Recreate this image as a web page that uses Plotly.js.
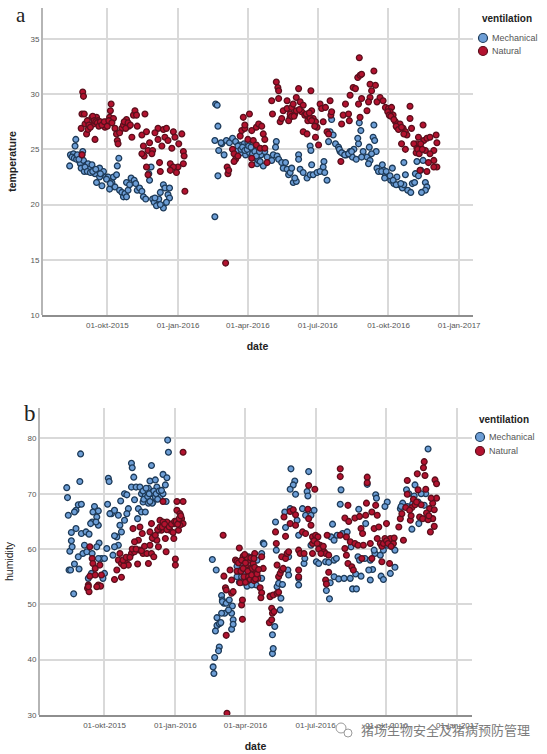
<!DOCTYPE html>
<html><head><meta charset="utf-8">
<script src="https://cdn.plot.ly/plotly-3.0.1.min.js"></script>
<style>html,body{margin:0;padding:0;background:#fff}#c{width:547px;height:754px}</style>
</head><body><div id="c"></div>
<script>
// Each pair: [days after 01-okt-2015]
const tempMechanical = [[-49,23.5],[-48,24.5],[-44,24.6],[-46,24.3],[-43,24.2],[-41,25.9],[-42,25.3],[-32,24.8],[-33,24.5],[-40,24.1],[-36,23.9],[-35,23.7],[-31,24],[-34,23.3],[-30,23],[-27,23.6],[-23,23.3],[-25,23.7],[-20,23.6],[-18,23.1],[-16,22.8],[-14,22],[-12,23.1],[-10,22.5],[-7,21.7],[-10,23.3],[-5,23],[-2,22.5],[1,22.5],[3,21.4],[6,22],[8,22.5],[10,21.6],[12,22.7],[15,24.2],[13,23.5],[16,21.3],[19,21.1],[21,20.7],[23,21],[25,20.7],[27,21.3],[25,22],[29,21.8],[31,22.4],[35,22.2],[37,21.9],[39,21.3],[42,21.5],[45,21.2],[47,20.7],[50,20.5],[54,22.8],[57,23.4],[55,22.2],[59,20.5],[61,20.2],[64,19.9],[67,20.5],[69,21.1],[73,21.8],[75,21.5],[81,21.5],[79,20.9],[81,20.6],[77,20.2],[73,19.7],[69,20],[62,20.6],
[141,29.1],[143,29],[144,27.1],[140,25.8],[144,22.6],[140,18.9],[145,24.9],[149,25.5],[152,24.5],[148,25.6],[155,25.8],[159,25.6],[163,26],[167,25.7],[170,24.9],[172,25.4],[175,24.7],[178,25.5],[180,24.5],[183,25.6],[185,24.7],[188,24.4],[190,25],[193,24.2],[195,23.7],[197,24],[200,24.5],[203,23.5],[205,24.8],[208,24.3],
[220,25.7],[219,25.2],[216,24.5],[221,24.4],[214,24],[223,24.1],[227,23.8],[232,23.8],[229,23.3],[234,23.2],[236,22.7],[238,22.9],[240,23.3],[242,22],[246,22.1],[244,22.4],[249,24.5],[249,24.1],[266,23.6],[264,25.3],[265,24.9],[251,23.2],[255,22.9],[260,22.4],[264,22.7],[268,22.7],[273,22.9],[277,23],[281,23.4],[282,23.9],[283,22.9],[286,22.2],
[292,27.7],[290,26.6],[294,26.3],[288,25.7],[297,25.5],[301,25.2],[303,24.8],[307,24.6],[311,24.5],[316,24.8],[319,24.3],[321,25],[327,25.5],[328,27.4],[330,26.7],[326,26],[347,27.2],[346,26.1],[348,25.8],[341,25.2],[333,24.8],[338,24.3],[342,24],[340,23.7],[350,24.8],[344,24.6],[324,24.1],[331,24.3],[351,23.3],[353,23],[358,23.6],[360,23.1],[362,22.7],[364,22.5],[371,23.3],[369,22.2],[373,21.9],[377,22.5],[380,21.8],[384,21.5],[386,21.8],[388,22.7],[386,23.8],[391,21.3],[395,21.1],[397,21.9],[400,22],[403,23.9],[401,22.8],[405,22.6],[411,24],[414,22],[416,21.6],[414,21.3],[409,21.1],[408,23.1],
[-39,24.5],[-37,24.1],[-29,23.4],[-26,23],[-22,22.9],[-19,23],[-15,23.2],[-9,22.8],[-1,22.3],[4,21.9],[170,25.3],[174,25],[176,25.2],[179,24.9],[182,25],[184,25.3],[187,25.2],[189,24.6],[192,24.8],[194,24.4],[198,24.8],[199,23.9],[302,25],[305,24.7],[309,24.5],[314,24.6],[318,24.8],[357,23],[361,22.4],[363,23],[368,22.6],[372,22.2],[376,21.8],[382,21.9]];
const tempNatural = [[-32,30.2],[-31,29.8],[-34,26.9],[-33,28.2],[-30,28.2],[-33,24.5],[-29,27.3],[-27,26.4],[-25,26.8],[-20,27.9],[-18,27.3],[-16,25.9],[-14,27.9],[-12,27.6],[-10,27.2],[-5,27.3],[-3,27],[-1,27.5],[3,27.9],[5,29.1],[4,28.5],[8,27.8],[10,26.9],[12,26.4],[13,25.8],[14,25.5],[19,26.9],[21,27.2],[25,27.7],[28,27.1],[32,26.1],[34,28.1],[36,28.5],[38,28.1],[39,27.1],[45,26.3],[49,28.2],[51,26.6],[47,25.3],[48,24.4],[45,24.6],[55,25.6],[53,24.9],[59,24.9],[58,24.6],[51,23.4],[53,22.7],[66,26.9],[62,26.5],[73,26.8],[66,25.9],[71,25.3],[75,26.1],[77,26.9],[79,25.8],[84,25.1],[82,23.7],[86,26.6],[88,26.1],[93,25.5],[97,26.4],[99,24.8],[100,24.4],[99,23.7],[92,23.4],[86,23.4],[82,23.1],[90,22.9],[69,23],[68,23.8],[101,21.2],
[154,14.7],[156,23.4],[157,22.8],[158,23.1],[163,25],[165,24.6],[167,24.1],[165,23.9],[170,24.4],[173,26.2],[175,26.7],[179,26.9],[177,27.9],[185,28.2],[179,27.2],[183,25.9],[188,26.7],[190,25.8],[194,27],[197,27.3],[201,27.1],[203,26.4],[205,25.9],[194,25.4],[199,25.1],[205,25.1],[188,24.2],[188,23.6],[208,23.8],
[220,31.1],[222,30.6],[223,30.3],[223,29.6],[214,29.4],[215,28.2],[229,28.5],[234,28.7],[234,29.4],[225,27.5],[227,27.8],[238,27.9],[240,28.8],[242,29.1],[244,28.2],[246,29.7],[249,30.5],[251,29.3],[255,29],[253,28.4],[257,28.1],[262,27.9],[266,28.5],[268,27.8],[271,27.5],[265,30.3],[255,26.6],[260,26.4],[273,27],[271,26.1],[277,29.1],[279,28.7],[284,28.8],[281,27.5],[275,25.4],[286,26.6],[288,26.4],[290,29.4],[291,28.1],[292,28.4],[305,27.3],[304,23.9],[307,28.1],[310,29.1],[316,29.9],[314,28.2],[315,27.6],[320,30.6],[323,30.5],[326,31.5],[329,31.7],[331,31.8],[328,33.3],[347,32.1],[342,30.9],[349,30.8],[344,30.3],[342,29.7],[338,28.5],[340,29.3],[329,27.9],[327,29.1],[331,29.6],[351,29.3],[355,29.7],[359,29.4],[362,28.8],[366,28.7],[370,28.8],[368,28.4],[372,28.1],[375,27.5],[377,27],[381,27.3],[385,26.9],[388,26.6],[390,26.3],[394,28.9],[394,27.8],[396,26.9],[383,25.5],[388,25],[411,27.2],[405,26.1],[403,25.5],[399,25.5],[403,25.1],[407,25.2],[412,25.8],[416,26],[420,26.1],[428,26.3],[429,25.6],[425,24.9],[420,24.6],[414,24.9],[425,24],[418,23.8],[429,23.4],[425,23.4],[407,23.1],[416,23],
[-26,27.6],[-24,27.2],[-22,27],[-19,28],[-17,27.6],[-15,27.5],[-13,27.4],[-11,27.1],[-9,27.5],[-7,27.2],[-4,27.5],[0,27.1],[2,27.6],[6,27.4],[16,26.5],[22,27.5],[24,26.9],[27,27.4],[30,27.2],[365,28.4],[367,28.1],[369,28],[373,27.7],[376,27.1],[379,26.8],[383,27],[386,26.4],[402,24.7],[404,25],[406,24.6],[408,25.5],[410,25],[236,27.6],[238,28.2],[240,28],[243,28],[246,28.5],[250,28.6],[259,28.2],[261,27.6],[264,27.8],[263,28.3],[266,27.6],[270,27.1]];
const humMechanical = [[-49,71.1],[-48,69.3],[-47,66.1],[-31,77.2],[-32,72.2],[-37,67],[-34,68],[-30,68.1],[-39,66.7],[-37,63.7],[-43,63],[-43,61.5],[-45,59.6],[-42,60.4],[-46,56.2],[-44,56.2],[-39,57.3],[-33,56.4],[-40,51.9],[-34,58.6],[-30,62.8],[-24,63.1],[-20,62.7],[-26,60.7],[-28,59.2],[-23,59.5],[-16,59.2],[-13,67.7],[-15,66.7],[-8,66.9],[-16,64.9],[-10,65.8],[-8,64.3],[-18,64.6],[-11,64.9],[-7,61.1],[-10,60.4],[-4,58.3],[-8,58.3],[0,58.3],[3,60.1],[0,55.6],[-2,54.7],[-21,54.7],[-17,55.6],[5,72.8],[6,72.2],[4,68.1],[9,66.4],[7,66.4],[18,66.1],[13,67],[20,64.3],[16,62.2],[13,62.4],[18,60.7],[13,60.4],[11,58.9],[21,68.7],[26,70],[29,69.8],[31,67.3],[29,66.4],[26,65.2],[22,63.1],[35,75.5],[36,74.7],[38,73],[35,71.2],[41,71.2],[39,68.9],[44,67.3],[43,65.5],[48,66.7],[53,66.7],[46,71.2],[48,70],[53,69.7],[55,69.1],[59,72.3],[61,75.1],[66,72.5],[68,71.2],[57,71],[61,70],[63,68.5],[66,69.4],[70,70],[72,69.4],[76,70],[79,71.6],[76,73.5],[81,72.9],[82,79.7],[83,77.5],[80,68.6],[50,68.5],[57,68.3],[62,68.3],
[140,58.1],[145,56.2],[152,51.6],[153,50.8],[155,50.2],[146,47.6],[144,45.2],[146,46.2],[149,46.5],[151,46.7],[149,42.3],[148,41.6],[143,40.4],[141,38.7],[142,37.5],[153,50.5],[158,50.2],[162,50.8],[166,49.7],[165,48.4],[167,47.2],[165,45.5],[167,46.4],[156,48.4],[161,49],[152,48.4],[172,56.9],[174,56],[176,55.1],[185,53.3],[179,57.4],[187,58.6],[193,58.6],[198,58],[204,59.2],[206,61.1],[207,60.9],[204,54.7],[197,53.5],[191,53.5],
[218,41.1],[219,42],[218,44.5],[221,46],[228,49],[229,51.1],[224,53.2],[226,53.8],[231,53.6],[222,64.9],[223,59.8],[235,63.9],[234,66.7],[239,58.6],[238,56.2],[239,55.3],[242,74.5],[247,72.3],[245,71.6],[241,70.8],[248,69.9],[241,67.3],[257,67.3],[250,65.2],[252,62.5],[265,74],[263,70.4],[264,69.6],[261,66.1],[272,67],[268,66.1],[259,57.4],[260,58.3],[268,60.7],[252,53.5],[252,54.7],[275,57.7],[278,57.4],[287,57.7],[291,57.6],[298,58],[301,58.3],[288,52.5],[292,51],[293,53.9],[298,55],[304,54.6],[311,54.7],[319,54.7],[326,55.5],[333,55.1],[322,52.8],[327,52.8],[345,54.4],[359,55.1],[362,54.5],[371,55.6],[377,56.7],[348,56.3],[343,56.2],[296,64.5],[307,70.7],[306,68.1],[294,62.2],[298,61.6],[302,62.5],[309,62.8],[315,63.1],[320,60.4],[329,58.6],[331,58],[338,58.3],[345,58],[351,59.2],[358,58.9],[362,59.8],[367,60.7],[373,60.4],[377,59.8],[339,64.6],[330,67.2],[341,71.7],[352,69.8],[353,69.2],[367,68.5],[364,67.7],[350,59.8],[384,67.3],[387,68.3],[385,67.7],[392,70.7],[395,70],[403,71.6],[402,69.6],[399,63.6],[408,64.6],[417,70],[411,70],[415,67.9],[420,66.1],[420,78.1],[407,68.5],[400,68.2],[393,67.7],
[172,55],[175,54],[178,55],[180,54],[182,55.5],[186,55],[190,54.5],[194,55],[196,56],[50,70.5],[51,69],[54,71],[56,69.5],[58,70],[59,68.6],[64,70.5],[67,70],[69,69],[71,70.5],[74,70.6]];
const humNatural = [[-21,53.5],[-22,52.9],[-20,52.3],[-21,53.2],[-19,55.1],[-19,60.4],[-16,58.3],[-15,57.4],[-12,56.5],[-12,55.3],[-8,53.5],[-5,53.3],[-10,53.2],[-4,55.3],[-6,57.1],[13,54.5],[22,54.9],[16,56.2],[18,58],[20,59.2],[22,57.4],[27,57.7],[29,57.4],[31,57.1],[35,59.2],[39,59.5],[43,57.3],[37,63.7],[46,64],[49,62.8],[44,61.6],[39,61.3],[46,59.8],[50,59.2],[55,59.2],[57,57.4],[61,59.2],[64,58.6],[59,60.7],[61,64.6],[59,63.1],[63,61.9],[68,61.6],[70,60.4],[72,65.2],[76,68.6],[74,63.4],[79,61.9],[83,64.6],[85,63.4],[80,59.5],[90,61.9],[92,57.1],[92,58.2],[90,64.6],[94,68.6],[102,68.6],[94,67],[98,66.4],[96,63.4],[100,65.5],[102,64.6],[98,64.3],[102,77.5],[81,64.9],[76,64.9],[70,63.4],
[154,62.5],[155,55.1],[157,53],[158,52.6],[158,44.4],[159,30.3],[163,56.2],[165,54.4],[165,52],[167,52.3],[170,58],[175,60.2],[178,49.9],[179,50.8],[179,47.3],[172,57.8],[176,53.9],[180,58.7],[184,57.1],[186,54.4],[188,58],[190,56.5],[193,57.4],[195,59.2],[197,56.2],[199,54.7],[202,53],[204,52.1],[203,51.2],[206,56.5],[204,58.6],[215,51.5],[214,46.7],
[215,51.4],[219,51.7],[224,52],[226,52.2],[217,49.3],[218,48.4],[217,47.2],[220,48.7],[222,63.1],[223,61],[224,57.1],[226,55],[228,55.6],[230,56.2],[232,56.5],[230,58.6],[235,58.3],[237,59.2],[239,59.5],[233,65.8],[235,62.3],[241,64.6],[248,64.3],[241,66.8],[245,67.1],[248,66.2],[252,55],[252,56.2],[252,59.8],[254,59.2],[259,59.2],[257,63.1],[261,62.8],[265,71.5],[273,70.8],[264,67.2],[265,65.5],[268,64.3],[270,59.2],[270,62.2],[274,62.5],[277,62.2],[280,60.7],[283,59.8],[285,59.5],[287,59.2],[291,58.9],[287,54.4],[288,53.7],[291,55.8],[289,62.5],[306,74.5],[306,73.1],[316,67.9],[312,65.6],[317,65],[325,65.6],[331,65.9],[312,60.1],[314,58.9],[316,57.4],[321,56.8],[323,56.2],[306,62.5],[314,62.2],[319,61.3],[325,61],[329,60.7],[333,63.7],[335,62.8],[339,66.1],[340,68.3],[341,73],[341,72],[347,66.7],[352,67.9],[354,66.1],[350,63.7],[356,64],[354,61.9],[345,61],[336,60.7],[334,58.3],[347,58.3],[360,57.7],[358,61],[364,61.9],[366,64.6],[371,61.9],[375,61],[370,57.4],[384,65.5],[386,66.4],[382,64],[388,61.6],[393,72.4],[393,69.9],[391,67.5],[397,65.2],[399,67.5],[406,73.6],[415,75.8],[414,74.7],[416,73.3],[407,70.7],[417,70.8],[411,68],[409,65.8],[413,65.5],[422,65.5],[426,65.5],[428,64.1],[423,63.1],[422,67.3],[429,72.5],[431,71.8],[431,69.2],[426,68.3],[428,67.1],[424,69.2],
[172,56],[174,57.5],[177,56],[178,58],[180,56.5],[181,55],[183,54],[183,57.5],[185,58.5],[186,56],[187,55],[189,54.5],[190,58.4],[191,55.3],[192,56.5],[194,54.3],[195,56.7],[196,54.6],[198,55.5],[200,56.3],[182,59],[194,58.3],
[25,57],[24,58],[28,58.5],[33,58.5],[36,60],[41,60],[48,59.7],[52,60.5],[62,62],[66,62.5],[69,63.5],[72,64],[75,64],[78,64.5],[81,63.5],[84,64],[87,64.5],[89,63],[91,65],[93,65],[95,64.5],[97,65.5],[99,66],[270,61],[272,61.5],[276,61],[278,60],[281,59.2],[284,60.5],[360,60.5],[362,61],[366,61.5],[368,61],[372,60.5],[376,62],[396,67],[398,66],[401,69],[403,68],[405,68.5],[418,66.5],[420,65.3],[421,66]];
const tickDates = ['2015-10-01','2016-01-01','2016-04-01','2016-07-01','2016-10-01','2017-01-01'];
const tickLabels = ['01-okt-2015','01-jan-2016','01-apr-2016','01-jul-2016','01-okt-2016','01-jan-2017'];
const legendTitle = 'ventilation';
const seriesNames = ['Mechanical','Natural'];

const toDate = d => new Date(Date.UTC(2015, 9, 1 + d)).toISOString().slice(0, 10);
const W = 547, H = 754;
const F = '"Liberation Sans", Arial, sans-serif';
const mechColor = '#6d9ed6', mechEdge = '#1d3a58', natColor = '#b3122f', natEdge = '#5a0f1c';
const mechStyle = {size: 5.8, color: mechColor, line: {color: mechEdge, width: 1.3}};
const natStyle = {size: 5.8, color: natColor, line: {color: natEdge, width: 1.3}};
function tr(pairs, name, marker, xa, ya) {
  return {type: 'scatter', mode: 'markers', x: pairs.map(p => toDate(p[0])), y: pairs.map(p => p[1]),
    name, marker, xaxis: xa, yaxis: ya, showlegend: false, cliponaxis: false};
}
const xCommon = {type: 'date', tickmode: 'array', tickvals: tickDates, ticktext: tickLabels, ticks: '', ticklabelstandoff: 2,
  showgrid: true, gridcolor: '#d9d9d9', gridwidth: 2, zeroline: false, showline: true, linecolor: '#8e8e8e', linewidth: 1.5,
  tickfont: {family: F, size: 8, color: '#555'}, tickangle: 0, anchor: 'free'};
const yCommon = {showgrid: true, gridcolor: '#d9d9d9', gridwidth: 2, zeroline: false, showline: true, linecolor: '#b5b5b5', linewidth: 2,
  ticks: '', tickfont: {family: F, size: 8, color: '#555'}, tickmode: 'array', anchor: 'free'};
const ttl = (text, weight, standoff) => ({text, font: {family: F, size: 10.5, color: '#222', weight}, standoff});
const note = (x, y, text, font, xanchor) => ({xref: 'paper', yref: 'paper', x: x/W, y: 1-y/H, text, showarrow: false, xanchor: xanchor || 'center', yanchor: 'middle', font});
const swatch = (cx, cy, r, fill, edge, w) => ({type: 'circle', xref: 'paper', yref: 'paper', x0: (cx-r)/W, x1: (cx+r)/W, y0: 1-(cy+r)/H, y1: 1-(cy-r)/H, fillcolor: fill, line: {color: edge, width: w}});
const titleFont = {family: F, size: 10, color: '#222', weight: 'bold'};
const itemFont = {family: F, size: 9, color: '#555'};
const layout = {
  width: W, height: H, margin: {l: 0, r: 0, t: 0, b: 0, autoexpand: false}, paper_bgcolor: '#fff', plot_bgcolor: '#fff', font: {family: F}, showlegend: false,
  xaxis: Object.assign({}, xCommon, {domain: [42/W, 473/W], range: ['2015-07-08', '2017-01-19'], position: (H-315)/H, title: ttl('date', 'bold', 13)}),
  yaxis: Object.assign({}, yCommon, {domain: [(H-315)/H, (H-8)/H], range: [10, 37.8], tickvals: [10,15,20,25,30,35], position: 42/W, title: ttl('temperature', 'bold', 11)}),
  xaxis2: Object.assign({}, xCommon, {domain: [39/W, 472/W], range: ['2015-07-08', '2017-01-20'], position: (H-715)/H, title: ttl('date', 'bold', 13)}),
  yaxis2: Object.assign({}, yCommon, {domain: [(H-715)/H, (H-408)/H], range: [30, 85.5], tickvals: [30,40,50,60,70,80], position: 39/W, title: ttl('humidity', 'normal', 11)}),
  shapes: [
    swatch(483, 38, 4.5, mechColor, mechEdge, 1.2), swatch(483, 51, 4.5, natColor, natEdge, 1.2),
    swatch(480, 437, 4.5, mechColor, mechEdge, 1.2), swatch(480, 451, 4.5, natColor, natEdge, 1.2),
    swatch(341, 728, 5, 'rgba(255,255,255,0.8)', '#9a9a9a', 1), swatch(348, 733, 4, 'rgba(255,255,255,0.8)', '#9a9a9a', 1)
  ],
  annotations: [
    note(14, 15, 'a', {family: '"Liberation Serif", serif', size: 21, color: '#222'}, 'left'),
    note(22, 413, 'b', {family: '"Liberation Serif", serif', size: 23, color: '#222'}, 'left'),
    note(480, 19, legendTitle, titleFont, 'left'), note(490, 38, seriesNames[0], itemFont, 'left'), note(490, 51, seriesNames[1], itemFont, 'left'),
    note(477, 419, legendTitle, titleFont, 'left'), note(487, 437, seriesNames[0], itemFont, 'left'), note(487, 451, seriesNames[1], itemFont, 'left'),
    note(445, 729, '猪场生物安全及猪病预防管理', {family: '"Noto Sans CJK SC", sans-serif', size: 13, color: '#7d7d7d'})
  ]
};
Plotly.newPlot('c', [
  tr(tempMechanical, seriesNames[0], mechStyle, 'x', 'y'),
  tr(tempNatural, seriesNames[1], natStyle, 'x', 'y'),
  tr(humMechanical, seriesNames[0], mechStyle, 'x2', 'y2'),
  tr(humNatural, seriesNames[1], natStyle, 'x2', 'y2')
], layout, {displayModeBar: false, staticPlot: true});
</script></body></html>
